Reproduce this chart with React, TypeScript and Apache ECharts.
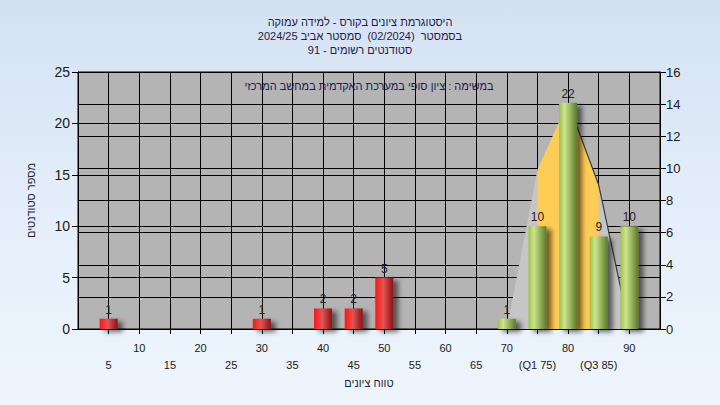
import React, { useEffect, useRef } from 'react';
import * as echarts from 'echarts';

const titleLines = [
  'היסטוגרמת ציונים בקורס - למידה עמוקה',
  'בסמסטר  (02/2024)  סמסטר אביב 2024/25',
  'סטודנטים רשומים - 91',
];
const taskLabel = 'במשימה : ציון סופי במערכת האקדמית במחשב המרכזי';
const xAxisName = 'טווח ציונים';
const yAxisName = 'מספר סטודנטים';

const gradeBins = [5, 10, 15, 20, 25, 30, 35, 40, 45, 50, 55, 60, 65, 70, 75, 80, 85, 90];
const studentCounts = [1, 0, 0, 0, 0, 1, 0, 2, 2, 5, 0, 0, 0, 1, 10, 22, 9, 10];
const passFrom = 70;
const quartileLabels: Record<number, string> = { 75: '(Q1 75)', 85: '(Q3 85)' };

const curveX = [70, 75, 80, 85, 90];
const curveY = [0, 15.5, 22, 14, 0];
const iqrFrom = 75;
const iqrTo = 85;

const FONT = '"Liberation Sans", "DejaVu Sans", Arial, sans-serif';

export default function App() {
  const ref = useRef<HTMLDivElement>(null);
  useEffect(() => {
    if (!ref.current) return;
    const chart = echarts.init(ref.current, undefined, { renderer: 'svg' });

    const redGrad = new echarts.graphic.LinearGradient(0, 0, 1, 0, [
      { offset: 0, color: '#ff1414' },
      { offset: 0.45, color: '#e25454' },
      { offset: 1, color: '#8a1212' },
    ]);
    const greenGrad = new echarts.graphic.LinearGradient(0, 0, 1, 0, [
      { offset: 0, color: '#9cc24a' },
      { offset: 0.3, color: '#cde58c' },
      { offset: 1, color: '#5b7a2a' },
    ]);

    const barData = gradeBins
      .map((g, i) => ({ g, v: studentCounts[i] }))
      .filter((d) => d.v > 0)
      .map((d) => ({
        value: [d.g, d.v],
        itemStyle: { color: d.g >= passFrom ? greenGrad : redGrad },
      }));

    const curve = curveX.map((x, i) => [x, curveY[i]]);
    const iqr = curve.filter((p) => p[0] >= iqrFrom && p[0] <= iqrTo);
    const peakIdx = curveY.indexOf(Math.max(...curveY));
    const tail = curve.slice(peakIdx);

    chart.setOption({
      animation: false,
      backgroundColor: 'transparent',
      textStyle: { fontFamily: FONT },
      title: {
        text: titleLines.join('\n'),
        left: 'center',
        top: 10,
        textStyle: { fontSize: 11, fontWeight: 'normal', color: '#1c1c44', lineHeight: 14, fontFamily: FONT },
      },
      grid: {
        left: 78,
        right: 60,
        top: 72,
        bottom: 76,
        show: true,
        backgroundColor: '#b4b4b4',
        borderColor: '#000',
        borderWidth: 1,
      },
      graphic: [
        {
          type: 'text',
          x: 369,
          y: 86,
          z: 10,
          style: {
            text: taskLabel,
            align: 'center',
            verticalAlign: 'middle',
            fontSize: 11,
            fill: '#1c1c44',
            fontFamily: FONT,
          },
        },
      ],
      xAxis: {
        type: 'value',
        min: 0,
        max: 95,
        interval: 5,
        name: xAxisName,
        nameLocation: 'middle',
        nameGap: 46,
        nameTextStyle: { fontSize: 11, color: '#1c1c44' },
        axisLine: { show: true, lineStyle: { color: '#000' } },
        axisTick: { show: true, length: 5, lineStyle: { color: '#000' } },
        splitLine: { show: true, lineStyle: { color: '#000', width: 1 } },
        axisLabel: {
          fontSize: 11,
          color: '#1a1a1a',
          margin: 10,
          lineHeight: 17,
          showMinLabel: false,
          showMaxLabel: false,
          formatter: (v: number) => {
            if (v <= 0 || v >= 95) return '';
            if (v % 10 === 0) return String(v);
            return '\n' + (quartileLabels[v] ?? String(v));
          },
        },
      },
      yAxis: [
        {
          type: 'value',
          min: 0,
          max: 25,
          interval: 5,
          name: yAxisName,
          nameLocation: 'middle',
          nameRotate: 90,
          nameGap: 42,
          nameTextStyle: { fontSize: 11, color: '#1c1c44' },
          axisLine: { show: true, lineStyle: { color: '#000' } },
          axisTick: { show: true, length: 6, lineStyle: { color: '#000' } },
          splitLine: { show: true, lineStyle: { color: '#000', width: 1 } },
          axisLabel: { fontSize: 14, color: '#1a1a1a', margin: 8 },
        },
        {
          type: 'value',
          min: 0,
          max: 16,
          interval: 2,
          position: 'right',
          axisLine: { show: true, lineStyle: { color: '#000' } },
          axisTick: { show: true, length: 6, lineStyle: { color: '#000' } },
          splitLine: { show: true, lineStyle: { color: '#000', width: 1 } },
          axisLabel: { fontSize: 13, color: '#1a1a1a', margin: 6 },
        },
      ],
      series: [
        {
          type: 'line',
          z: 1,
          data: curve,
          symbol: 'none',
          lineStyle: { width: 0 },
          areaStyle: { color: '#c6c6c6', opacity: 1 },
          silent: true,
        },
        {
          type: 'line',
          z: 2,
          data: iqr,
          symbol: 'none',
          lineStyle: { width: 0 },
          areaStyle: { color: '#ffcc55', opacity: 1 },
          silent: true,
        },
        {
          type: 'line',
          z: 3,
          data: tail,
          symbol: 'none',
          lineStyle: { width: 1.2, color: '#3a3a3a' },
          silent: true,
        },
        {
          type: 'bar',
          z: 6,
          data: barData,
          barWidth: 18,
          itemStyle: {
            shadowColor: 'rgba(0,0,0,0.55)',
            shadowBlur: 5,
            shadowOffsetX: 5,
            shadowOffsetY: 3,
          },
          label: {
            show: true,
            position: 'top',
            distance: 3,
            fontSize: 12,
            color: '#222',
            formatter: (p: any) => String(p.value[1]),
          },
        },
      ],
    });
    return () => chart.dispose();
  }, []);

  return (
    <div
      style={{
        position: 'absolute',
        left: 0,
        top: 0,
        width: 720,
        height: 405,
        background: 'linear-gradient(180deg, #d3e1f3 0%, #e4eefa 50%, #eef5fd 100%)',
      }}
    >
      <div ref={ref} style={{ width: 720, height: 405 }} />
    </div>
  );
}
